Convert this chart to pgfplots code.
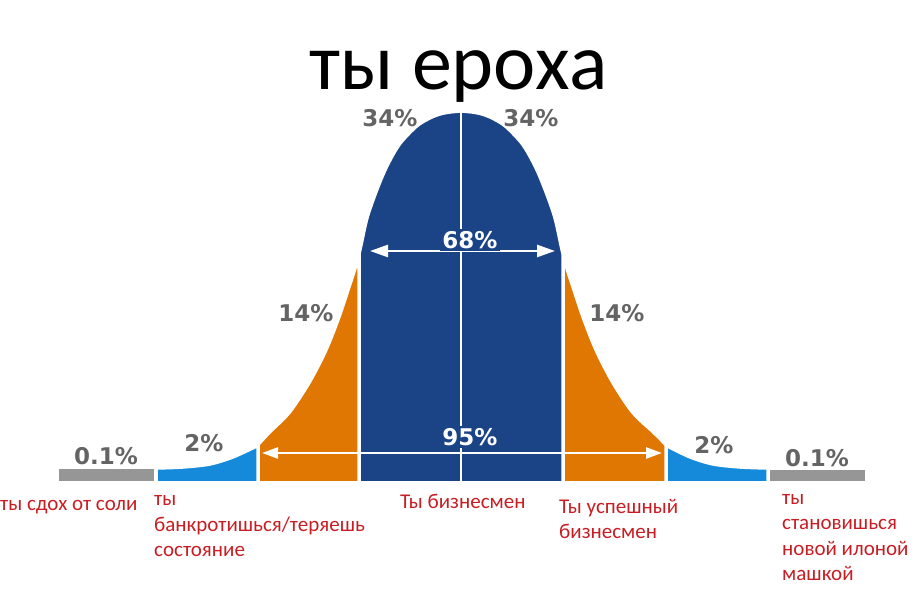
\documentclass[border=0pt]{standalone}
\usepackage{pgfplots}
\pgfplotsset{compat=1.18}
\usepackage{fontspec}
\setmainfont{Carlito}
\newfontfamily\pctfont{DejaVu Sans}
\usetikzlibrary{arrows.meta}

\definecolor{darkblue}{RGB}{27,68,135}
\definecolor{orng}{RGB}{224,119,2}
\definecolor{lightblue}{RGB}{22,138,218}
\definecolor{bargray}{RGB}{150,150,150}
\definecolor{pctgray}{RGB}{100,100,100}
\definecolor{memered}{RGB}{200,30,35}

\tikzset{
  pct/.style={font=\pctfont\bfseries\fontsize{23}{26}\selectfont, text=pctgray, inner sep=0pt},
  redlbl/.style={font=\fontsize{21}{25}\selectfont, text=memered, anchor=base west, inner sep=0pt},
}

\begin{document}
\begin{tikzpicture}
\useasboundingbox (0,0) rectangle (924pt,591pt);
\begin{axis}[
  at={(0pt,109pt)}, anchor=origin,
  scale only axis, width=924pt, height=591pt,
  xmin=0, xmax=924, ymin=-109, ymax=482,
  hide axis, clip=false,
  every axis plot/.append style={draw=white, line width=1.5pt},
]
% tails (0.1%)
\addplot[fill=bargray] coordinates {(58,14) (155,14)} \closedcycle;
\addplot[fill=bargray] coordinates {(769,13) (866,13)} \closedcycle;
% 2%
\addplot[fill=lightblue, smooth] coordinates {(157,13) (183,14) (210,17) (233,24) (257,35)} \closedcycle;
\addplot[fill=lightblue, smooth] coordinates {(667,35) (690,24) (713,17) (740,14) (767,13)} \closedcycle;
% 14%
\addplot[fill=orng, smooth] coordinates {(259,37) (270,49) (290,69) (310,99) (327,132) (340,165) (350,195) (354,207) (358,220)} \closedcycle;
\addplot[fill=orng, smooth] coordinates {(564,220) (568,207) (572,195) (582,165) (595,132) (612,99) (632,69) (653,49) (665,37)} \closedcycle;
% 34%
\addplot[fill=darkblue, smooth] coordinates {(360,228) (362,237) (368,264) (377,290) (387,314) (400,337) (417,355) (430,363) (440,367) (450,369) (461,370)} \closedcycle;
\addplot[fill=darkblue, smooth] coordinates {(461,370) (472,369) (482,367) (492,363) (505,355) (522,337) (535,314) (545,290) (554,264) (560,237) (562,228)} \closedcycle;

\draw[white, line width=2pt] (axis cs:461,0) -- (axis cs:461,370);
\draw[white, line width=2.5pt, {Triangle[length=18pt,width=12pt]}-{Triangle[length=18pt,width=12pt]}] (axis cs:370,231) -- (axis cs:555,231);
\draw[white, line width=2.5pt, {Triangle[length=16pt,width=11pt]}-{Triangle[length=16pt,width=11pt]}] (axis cs:262,29) -- (axis cs:662,29);

\node[pct] at (axis cs:390,364) {34\%};
\node[pct] at (axis cs:531,364) {34\%};
\node[pct, text=white, fill=darkblue, inner sep=2pt] at (axis cs:470,242) {68\%};
\node[pct] at (axis cs:306,169) {14\%};
\node[pct] at (axis cs:617,169) {14\%};
\node[pct, text=white, fill=darkblue, inner sep=2pt] at (axis cs:470,45) {95\%};
\node[pct] at (axis cs:204,39) {2\%};
\node[pct] at (axis cs:714,37) {2\%};
\node[pct] at (axis cs:106,26) {0.1\%};
\node[pct] at (axis cs:817,24) {0.1\%};

\node[anchor=base, inner sep=0pt, text depth=0pt, font=\fontsize{80}{88}\selectfont] at (axis cs:459,392) {ты ероха};

\node[redlbl] at (axis cs:0,-29) {ты сдох от соли};
\node[redlbl] at (axis cs:154,-24) {ты};
\node[redlbl] at (axis cs:154,-50) {банкротишься/теряешь};
\node[redlbl] at (axis cs:154,-75) {состояние};
\node[redlbl] at (axis cs:400,-27) {Ты бизнесмен};
\node[redlbl] at (axis cs:559,-32) {Ты успешный};
\node[redlbl] at (axis cs:559,-57) {бизнесмен};
\node[redlbl] at (axis cs:782,-23) {ты};
\node[redlbl] at (axis cs:782,-48) {становишься};
\node[redlbl] at (axis cs:782,-74) {новой илоной};
\node[redlbl] at (axis cs:782,-99) {машкой};
\end{axis}
\end{tikzpicture}
\end{document}
